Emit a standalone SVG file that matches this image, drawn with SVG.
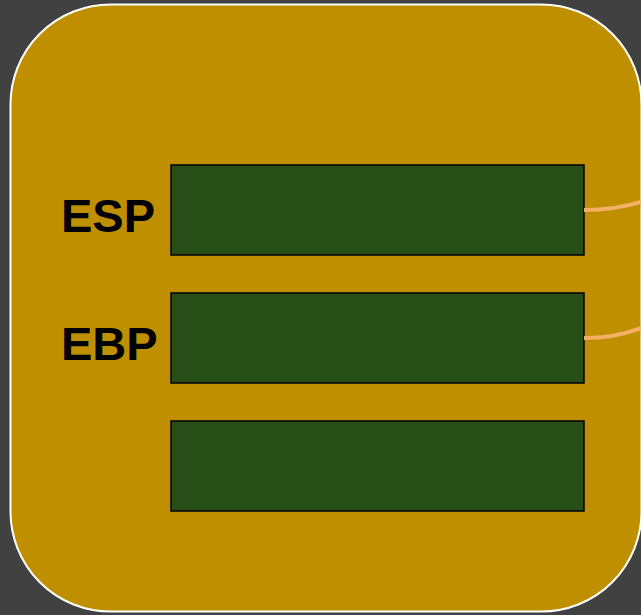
<svg xmlns="http://www.w3.org/2000/svg" width="641" height="615" viewBox="0 0 641 615">
<style>
.reg{fill:#274e16;stroke:#000;stroke-width:1.5}
.lbl{font-family:"Liberation Sans",Arial,sans-serif;font-weight:bold;font-size:47px;fill:#000}
.ptr{fill:none;stroke:#f4b067;stroke-width:4}
</style>
<rect x="0" y="0" width="641" height="615" fill="#414141"/>
<g id="frame"><rect x="10.5" y="4.5" width="631" height="607" rx="100" ry="100" fill="#c08f00" stroke="#fff" stroke-width="2"/></g>
<g id="esp"><rect class="reg" x="171" y="165" width="413" height="90"/><text class="lbl" x="61" y="232">ESP</text></g>
<g id="ebp"><rect class="reg" x="171" y="293" width="413" height="90"/><text class="lbl" x="61" y="360">EBP</text></g>
<g id="slot"><rect class="reg" x="171" y="421" width="413" height="90"/></g>
<g id="connectors">
<path class="ptr" d="M584 210 C605 210 625 207 641 202"/>
<path class="ptr" d="M584 338 C605 338 625 334 641 328"/>
</g>
</svg>
